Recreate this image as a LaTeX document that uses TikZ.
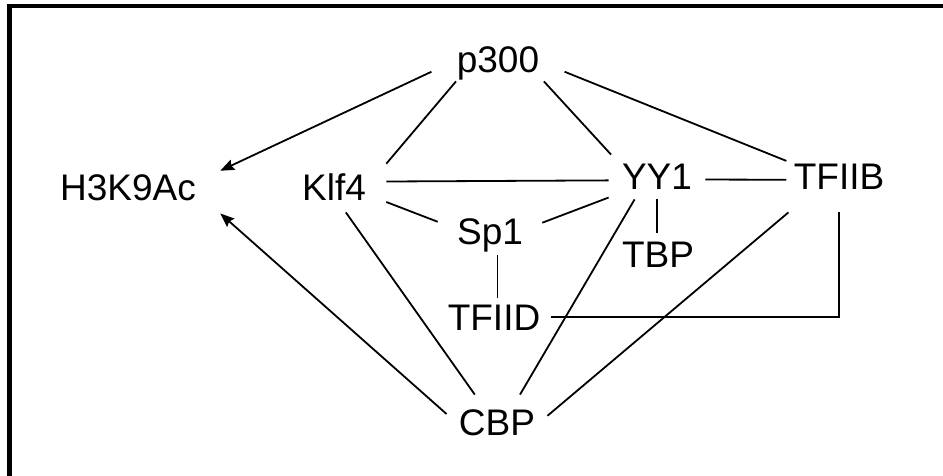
\documentclass[tikz,border=0pt]{standalone}
\usepackage{fontspec}
\setmainfont{Liberation Sans}
\usetikzlibrary{arrows.meta}

\begin{document}
\begin{tikzpicture}[
  x=0.5pt, y=-0.5pt,
  prot/.style={font=\fontsize{18.5}{22}\selectfont, text height=13pt, text depth=0pt,
               inner xsep=4pt, inner ysep=4pt},
  link/.style={line width=0.9pt, black},
  acts/.style={link, -{Stealth[length=7pt, width=5.5pt, inset=1pt]}},
  frame/.style={line width=2.3pt, black},
]
\useasboundingbox (0,0) rectangle (943,476);

% Frame (only top and left edges show)
\draw[frame] (9.5,480) -- (9.5,6) -- (950,6);

% Proteins and the mark
\node[prot, inner xsep=12.5pt] (p300) at (498,60) {p300};
\node[prot, inner xsep=12pt, inner ysep=8pt] (h3k9ac) at (128,187) {H3K9Ac};
\node[prot, inner xsep=10pt, inner ysep=6pt] (klf4) at (334,187) {Klf4};
\node[prot, inner xsep=6.5pt, inner ysep=4.5pt] (yy1) at (657,177) {YY1};
\node[prot, inner xsep=3.5pt, inner ysep=11pt] (tfiib) at (839,177) {TFIIB};
\node[prot, inner xsep=9.5pt, inner ysep=5.5pt] (sp1) at (490,231) {Sp1};
\node[prot] (tbp) at (658,254) {TBP};
\node[prot, inner xsep=5pt, inner ysep=3pt] (tfiid) at (494,317) {TFIID};
\node[prot, inner xsep=6pt, inner ysep=7pt] (cbp) at (497,422) {CBP};

% Acetylation arrows
\draw[acts] (p300.190) -- (h3k9ac.10);
\draw[acts] (cbp.171) -- (h3k9ac.-16);

% p300 links
\draw[link] (p300.207) -- (klf4.24);
\draw[link] (p300.-25) -- (yy1.154);
\draw[link] (p300.-10) -- (tfiib.163);

% Middle row
\draw[link] (klf4.6.5) -- (yy1.184);
\draw[link] (yy1.-3) -- (tfiib.183);
\draw[link] (klf4.-16) -- (sp1.170);
\draw[link] (sp1.9) -- (yy1.203);
\draw[link] (yy1.south) -- (yy1.south |- tbp.north);
\draw[link] (sp1.south -| tfiid.80) -- (tfiid.80);
\draw[link] (tfiid.east) -| (tfiib.south);

% CBP links
\draw[link] (cbp.129) -- (klf4.-65);
\draw[link] (cbp.50) -- (yy1.225);
\draw[link] (cbp.7) -- (tfiib.215);

\end{tikzpicture}
\end{document}
